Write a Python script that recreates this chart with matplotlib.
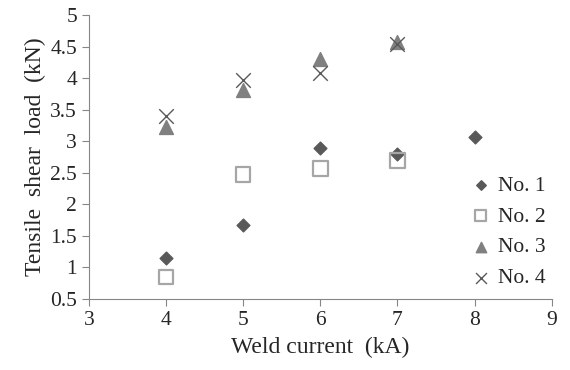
import matplotlib.pyplot as plt

current = [4, 5, 6, 7, 8]
no1 = [1.15, 1.68, 2.90, 2.80, 3.07]
no2 = [0.85, 2.47, 2.57, 2.70]
no3 = [3.22, 3.82, 4.30, 4.57]
no4 = [3.40, 3.97, 4.08, 4.55]

plt.rcParams['font.family'] = ['Liberation Serif', 'DejaVu Serif']

fig = plt.figure(figsize=(5.7, 3.7), dpi=100)
ax = fig.add_axes([0.156, 0.192, 0.812, 0.767])

ax.scatter(current, no1, marker='D', s=42, color='#595959', label='No. 1', zorder=3)
ax.scatter(current[:4], no2, marker='s', s=110, facecolor='none', edgecolor='#a6a6a6',
           linewidth=1.6, label='No. 2', zorder=3)
ax.scatter(current[:4], no3, marker='^', s=100, color='#808080', label='No. 3', zorder=3)
ax.scatter(current[:4], no4, marker='x', s=110, color='#595959', linewidth=1.0,
           label='No. 4', zorder=4)

ax.set_xlim(3, 9)
ax.set_ylim(0.5, 5)
ax.set_xticks(range(3, 10))
ax.set_yticks([0.5, 1, 1.5, 2, 2.5, 3, 3.5, 4, 4.5, 5])
ax.set_yticklabels(['0.5', '1', '1.5', '2', '2.5', '3', '3.5', '4', '4.5', '5'])

for s in ['top', 'right']:
    ax.spines[s].set_visible(False)
for s in ['left', 'bottom']:
    ax.spines[s].set_color('#868686')
ax.tick_params(colors='#868686', labelcolor='#262626', labelsize=15.5, length=5, direction='out')

ax.set_xlabel('Weld current  (kA)', fontsize=17, color='#262626', labelpad=5)
ax.set_ylabel('Tensile  shear  load  (kN)', fontsize=17, color='#262626', labelpad=3)

ax.legend(loc='lower right', bbox_to_anchor=(1.01, 0.0), frameon=False, fontsize=15.5,
          handletextpad=-0.2, labelspacing=0.5, borderaxespad=0.1, markerscale=0.75,
          labelcolor='#262626')

fig.savefig('out.png', dpi=100)
